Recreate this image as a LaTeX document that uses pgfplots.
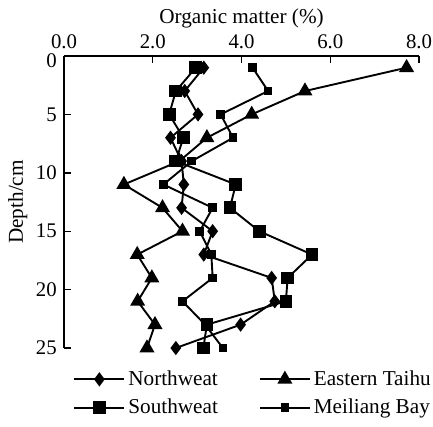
\documentclass[border=0pt]{standalone}
\usepackage{fontspec}
\setmainfont{Liberation Serif}
\usepackage{pgfplots}
\pgfplotsset{compat=1.18}
\begin{document}
\fontsize{10.4}{12}\selectfont
\begin{tikzpicture}
\begin{axis}[
  name=ax,
  scale only axis, width=177.5pt, height=146pt,
  xmin=0, xmax=8, ymin=0, ymax=25, y dir=reverse,
  axis x line*=top, axis y line*=left,
  axis line style={line width=0.7pt},
  xtick={0,2,4,6,8}, ytick={5,10,15,20,25},
  extra y ticks={0}, extra y tick style={yticklabel style={yshift=-2.5pt}},
  xticklabel pos=top,
  x tick label style={/pgf/number format/.cd,fixed,fixed zerofill,precision=1},
  /pgf/number format/assume math mode=true,
  tick label style={font=\fontsize{10.4}{12}\selectfont},
  tick align=inside, major tick length=3.5pt,
  tick style={line width=0.7pt, black},
  xlabel={Organic matter (\%)},
  xlabel style={at={(axis description cs:0.5,1.13)}, anchor=center},
  ylabel={Depth/cm},
  ylabel style={at={(axis description cs:-0.13,0.5)}, anchor=center},
  label style={font=\fontsize{10.6}{12}\selectfont},
  clip=false,
  every axis plot/.append style={line width=0.95pt, black},
  legend columns=2,
  legend cell align=left,
  legend style={draw=none, fill=none, at={(axis description cs:0,0)}, anchor=north west,
    xshift=4.5pt, yshift=-9.5pt, inner sep=0pt,
    nodes={inner sep=1.5pt},
    /tikz/every even column/.append style={column sep=19pt},
    row sep=2.2pt, font=\fontsize{10.6}{12.5}\selectfont},
  legend image code/.code={\draw[mark repeat=2,mark phase=2,#1] plot coordinates {(0cm,0cm)(0.44cm,0cm)(0.88cm,0cm)};},
]
\addplot[mark=diamond*, mark size=2.8pt] coordinates {
(3.15,1)(2.72,3)(3.02,5)(2.40,7)(2.65,9)(2.70,11)(2.65,13)(3.35,15)(3.15,17)(4.68,19)(4.75,21)(3.98,23)(2.52,25)};
\addlegendentry{Northweat}
\addplot[mark=triangle*, mark size=3.4pt] coordinates {
(7.72,1)(5.43,3)(4.23,5)(3.22,7)(2.60,9)(1.35,11)(2.22,13)(2.67,15)(1.65,17)(1.98,19)(1.66,21)(2.05,23)(1.87,25)};
\addlegendentry{Eastern Taihu}
\addplot[mark=square*, mark size=2.7pt] coordinates {
(2.97,1)(2.52,3)(2.37,5)(2.69,7)(2.52,9)(3.87,11)(3.74,13)(4.40,15)(5.59,17)(5.04,19)(5.00,21)(3.22,23)(3.14,25)};
\addlegendentry{Southweat}
\addplot[mark=square*, mark size=1.7pt] coordinates {
(4.25,1)(4.60,3)(3.53,5)(3.81,7)(2.88,9)(2.24,11)(3.35,13)(3.06,15)(3.32,17)(3.35,19)(2.67,21)(3.18,23)(3.58,25)};
\addlegendentry{Meiliang Bay}
\end{axis}
\pgfresetboundingbox
\path ([xshift=-32pt,yshift=28pt]ax.north west) rectangle ([xshift=7pt,yshift=-39pt]ax.south east);
\end{tikzpicture}
\end{document}
